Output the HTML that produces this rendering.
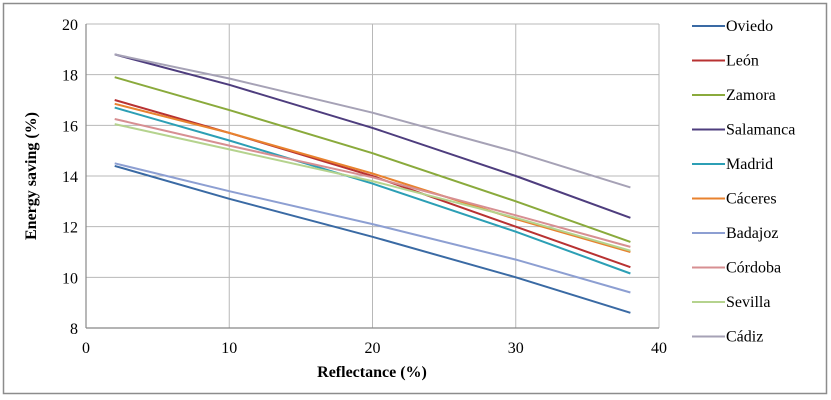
<!DOCTYPE html>
<html><head><meta charset="utf-8"><style>
html,body{margin:0;padding:0;background:#fff;}
svg{display:block;}
svg text{font-family:"Liberation Serif","DejaVu Serif",serif;}
</style></head><body>
<svg id="chart" width="831" height="400">
<rect x="3.5" y="3.5" width="823" height="390" fill="#fff" stroke="#8c8c8c" stroke-width="1.5"/>
<g id="grid"></g><g id="axes"></g><g id="series"></g><g id="legend"></g>
<text x="372" y="377" font-size="16" font-weight="bold" text-anchor="middle">Reflectance (%)</text>
<text transform="translate(36,176) rotate(-90)" font-size="16" font-weight="bold" text-anchor="middle">Energy saving (%)</text>
</svg>
<script>
const xPoints=[2,10,20,30,38];
const seriesNames=["Oviedo","León","Zamora","Salamanca","Madrid","Cáceres","Badajoz","Córdoba","Sevilla","Cádiz"];
const seriesColors=["#3a6aa4","#b83232","#8aaa3c","#4e3d7e","#2c9fb5","#e8822e","#8d9fd2","#d78f92","#b5d38e","#a6a2b6"];
const oviedo=[14.4,13.1,11.6,10.0,8.6];
const leon=[17.0,15.7,14.0,12.0,10.4];
const zamora=[17.9,16.6,14.9,13.0,11.4];
const salamanca=[18.8,17.6,15.9,14.0,12.35];
const madrid=[16.7,15.4,13.7,11.8,10.15];
const caceres=[16.85,15.7,14.1,12.3,11.0];
const badajoz=[14.5,13.4,12.1,10.7,9.4];
const cordoba=[16.25,15.2,13.95,12.45,11.2];
const sevilla=[16.05,15.05,13.8,12.35,11.05];
const cadiz=[18.8,17.85,16.5,14.95,13.55];
const allSeries=[oviedo,leon,zamora,salamanca,madrid,caceres,badajoz,cordoba,sevilla,cadiz];
const xTicks=[0,10,20,30,40];
const yTicks=[8,10,12,14,16,18,20];
const X0=86,X1=659,Y0=328,Y1=24;
const xs=v=>X0+(v-0)/(40-0)*(X1-X0);
const ys=v=>Y0-(v-8)/(20-8)*(Y0-Y1);
const NS="http://www.w3.org/2000/svg";
function mk(tag,attrs,parent){const e=document.createElementNS(NS,tag);for(const k in attrs)e.setAttribute(k,attrs[k]);parent.appendChild(e);return e;}
const grid=document.getElementById('grid'),axes=document.getElementById('axes'),ser=document.getElementById('series'),leg=document.getElementById('legend');
yTicks.forEach(t=>{
 const l=mk('line',{x1:X0,x2:X1,y1:ys(t),y2:ys(t),stroke:'#b8b8b8','stroke-width':1},grid);
 
 
 const tx=mk('text',{x:X0-8,y:ys(t)+6,'font-size':16,'text-anchor':'end'},axes);
 tx.textContent=t;
 
 
});
xTicks.forEach(t=>{
 const l=mk('line',{x1:xs(t),x2:xs(t),y1:Y1,y2:Y0,stroke:'#b8b8b8','stroke-width':1},grid);
 
 
 const tx=mk('text',{x:xs(t),y:Y0+25,'font-size':16,'text-anchor':'middle'},axes);
 tx.textContent=t;
 
 
});
const ax=mk('line',{x1:X0,x2:X0,y1:Y1,y2:Y0,stroke:'#888','stroke-width':1.2},axes);


const bx=mk('line',{x1:X0,x2:X1,y1:Y0,y2:Y0,stroke:'#888','stroke-width':1.2},axes);


allSeries.forEach((s,i)=>{
 const d=s.map((v,j)=>(j?'L':'M')+xs(xPoints[j]).toFixed(1)+','+ys(v).toFixed(1)).join(' ');
 const p=mk('path',{d:d,fill:'none',stroke:seriesColors[i],'stroke-width':2},ser);
 
 
 const ly=26+i*34.5;
 const g=mk('g',{},leg);
 
 
 mk('line',{x1:692,x2:725,y1:ly,y2:ly,stroke:seriesColors[i],'stroke-width':2},g);
 const t=mk('text',{x:726,y:ly+5,'font-size':16},g);
 t.textContent=seriesNames[i];
});
</script>
</body></html>
